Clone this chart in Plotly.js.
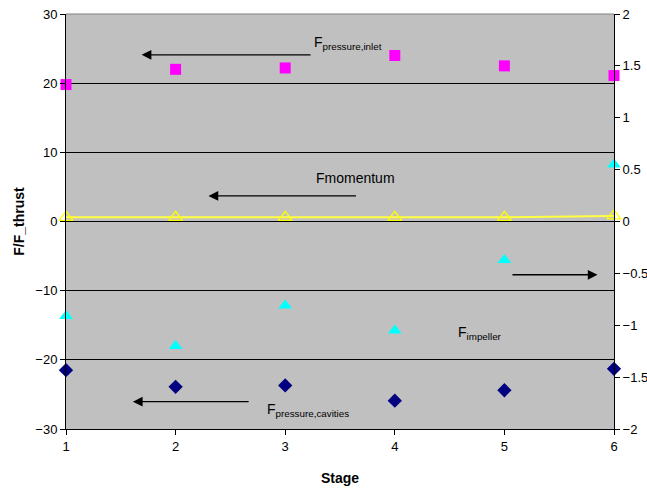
<!DOCTYPE html>
<html><head><meta charset="utf-8">
<script src="https://cdn.plot.ly/plotly-3.0.1.min.js"></script>
<style>body{margin:0;background:#fff}#c{width:647px;height:489px}</style>
</head><body><div id="c"></div>
<script>
const stages = [1, 2, 3, 4, 5, 6];
const pressureInlet = [19.8, 22.0, 22.2, 24.0, 22.5, 21.1];
const momentum = [0.6, 0.6, 0.6, 0.6, 0.6, 0.8];
const impeller = [-0.91, -1.2, -0.81, -1.05, -0.37, 0.55];
const pressureCavities = [-21.5, -23.9, -23.7, -25.9, -24.4, -21.3];
const xTicks = ['1', '2', '3', '4', '5', '6'];

const FAM = 'Liberation Sans, Arial, sans-serif';
const font = {family: FAM, size: 13, color: '#000'};

const traces = [
  {x: stages, y: pressureInlet, type: 'scatter', mode: 'markers', cliponaxis: false,
   marker: {symbol: 'square', size: 11, color: '#ff00ff'}, name: 'Fpressure,inlet'},
  {x: stages, y: momentum, type: 'scatter', mode: 'lines+markers', cliponaxis: false,
   line: {color: '#ffff40', width: 2},
   marker: {symbol: 'triangle-up-open', size: 12, color: '#ffff00', line: {width: 1.3, color: '#ffff00'}}, name: 'Fmomentum'},
  {x: stages, y: impeller, type: 'scatter', mode: 'markers', yaxis: 'y2', cliponaxis: false,
   marker: {symbol: 'triangle-up', size: 12, color: '#00ffff'}, name: 'Fimpeller'},
  {x: stages, y: pressureCavities, type: 'scatter', mode: 'markers', cliponaxis: false,
   marker: {symbol: 'diamond', size: 11, color: '#000080'}, name: 'Fpressure,cavities'}
];

function arrow(x1, y1, x0, y0) {
  return {x: x1, y: y1, ax: x0, ay: y0, xref: 'x', yref: 'y', axref: 'x', ayref: 'y',
    showarrow: true, arrowhead: 2, arrowsize: 1.5, arrowwidth: 1.3, arrowcolor: '#000', text: ''};
}
function label(txt, x, y) {
  return {x: x, y: y, xref: 'x', yref: 'y', text: txt, showarrow: false, xanchor: 'left', yanchor: 'middle',
    font: {family: FAM, size: 14, color: '#000'}};
}

const layout = {
  width: 647, height: 489,
  margin: {l: 66, r: 33, t: 14, b: 60},
  paper_bgcolor: '#fff', plot_bgcolor: '#c0c0c0',
  showlegend: false,
  font: font,
  xaxis: {range: [1, 6], tickvals: stages, ticktext: xTicks, ticks: 'outside', ticklen: 5,
    tickcolor: '#000', showline: true, linecolor: '#000', linewidth: 1, showgrid: false, zeroline: false,
    title: {text: '<b>Stage</b>', font: {family: FAM, size: 14}, standoff: 20},
    tickfont: font},
  yaxis: {range: [-30, 30], dtick: 10, ticks: 'outside', ticklen: 5, tickcolor: '#000',
    showline: true, linecolor: '#000', linewidth: 1, showgrid: true, gridcolor: '#000', gridwidth: 1,
    zeroline: true, zerolinecolor: '#000', zerolinewidth: 1,
    title: {text: '<b>F/F_thrust</b>', font: {family: FAM, size: 14}, standoff: 7},
    tickfont: font},
  yaxis2: {range: [-2, 2], dtick: 0.5, overlaying: 'y', side: 'right', ticks: 'outside', ticklen: 5,
    tickcolor: '#000', showline: true, linecolor: '#000', linewidth: 1, showgrid: false, zeroline: false,
    tickfont: font},
  shapes: [{type: 'line', xref: 'paper', yref: 'paper', x0: 0, x1: 1, y0: 1, y1: 1,
    line: {color: '#808080', width: 1}}],
  annotations: [
    arrow(1.69, 24.1, 3.245, 24.1),
    arrow(2.30, 3.7, 3.66, 3.7),
    arrow(5.85, -7.7, 5.06, -7.7),
    arrow(1.61, -26.05, 2.68, -26.05),
    label('F<sub>pressure,inlet</sub>', 3.24, 25.8),
    label('Fmomentum', 3.26, 6.3),
    label('F<sub>impeller</sub>', 4.56, -16.1),
    label('F<sub>pressure,cavities</sub>', 2.82, -27.3)
  ]
};

Plotly.newPlot('c', traces, layout, {displayModeBar: false, staticPlot: true});
</script></body></html>
